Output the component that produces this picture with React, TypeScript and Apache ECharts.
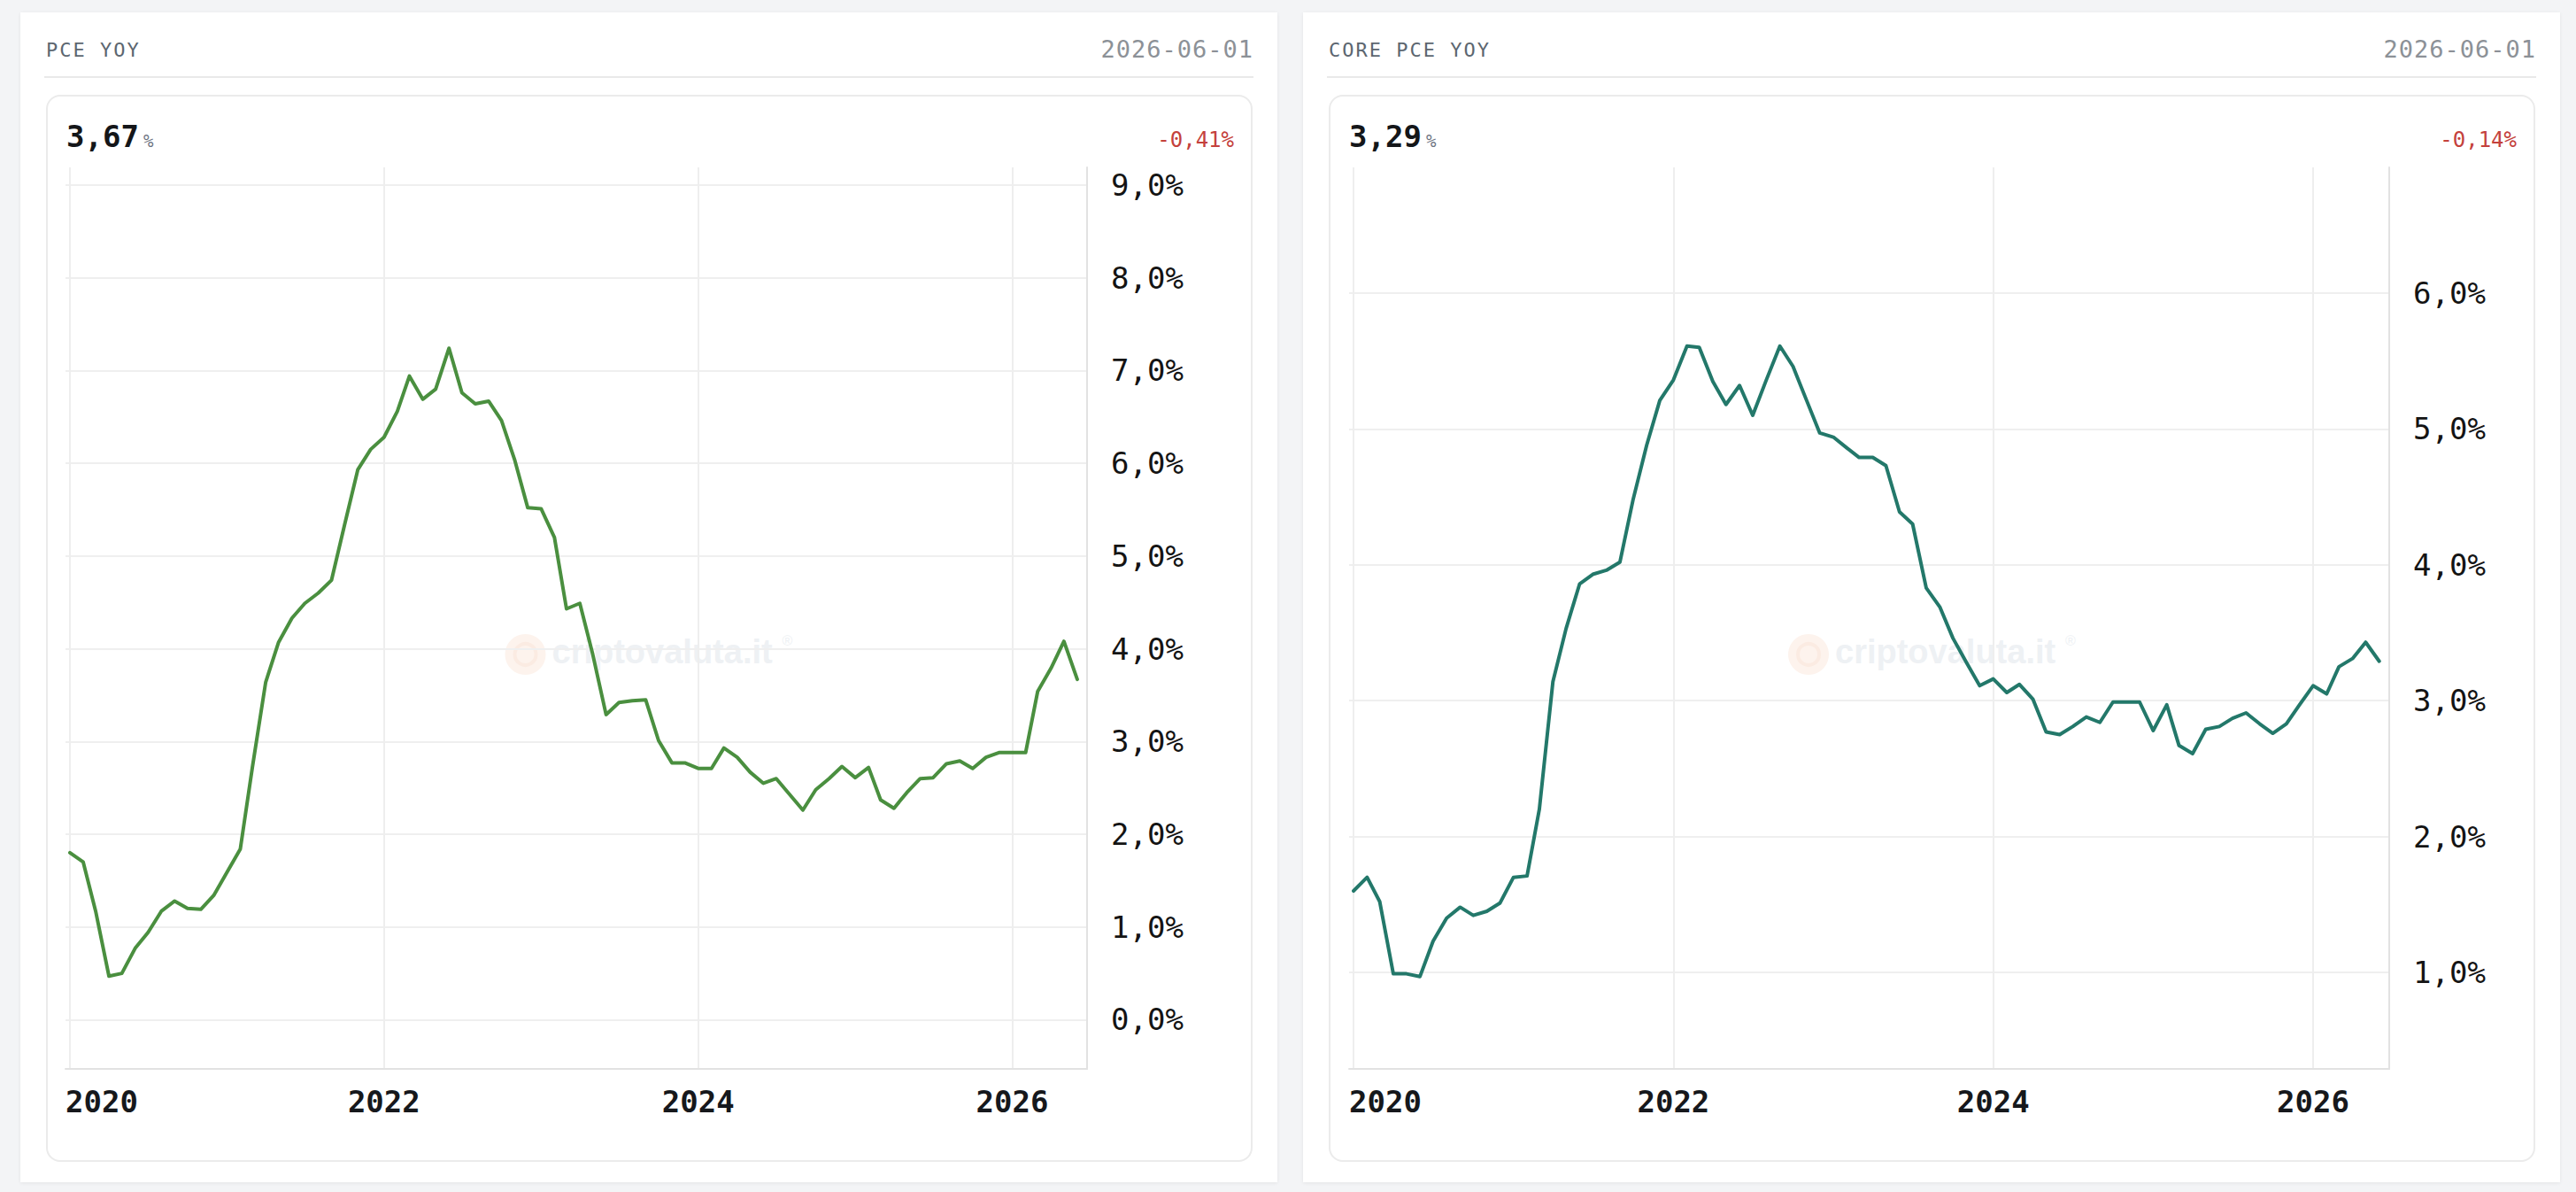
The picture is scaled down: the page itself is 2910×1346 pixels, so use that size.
import React, { useEffect, useRef } from "react";
import * as echarts from "echarts";

// ---------- data ----------
const START_YEAR = 2020; // first observation: January 2020, monthly
const titles = ["PCE YOY", "CORE PCE YOY"];
const lastDate = "2026-06-01";
const yearTicks = [2020, 2022, 2024, 2026];
const pceTicks = [0, 1, 2, 3, 4, 5, 6, 7, 8, 9];
const coreTicks = [1, 2, 3, 4, 5, 6];

const pceYoy = [
  1.8, 1.7, 1.17, 0.47, 0.5, 0.77, 0.94, 1.17, 1.28, 1.2, 1.19, 1.34,
  1.59, 1.84, 2.72, 3.64, 4.07, 4.33, 4.49, 4.6, 4.74, 5.33, 5.93, 6.15,
  6.28, 6.56, 6.94, 6.69, 6.8, 7.24, 6.76, 6.64, 6.67, 6.46, 6.03, 5.52,
  5.51, 5.2, 4.43, 4.49, 3.94, 3.29, 3.42, 3.44, 3.45, 3.01, 2.77, 2.77,
  2.71, 2.71, 2.93, 2.83, 2.67, 2.55, 2.6, 2.43, 2.26, 2.48, 2.6, 2.73,
  2.61, 2.72, 2.37, 2.28, 2.45, 2.6, 2.61, 2.76, 2.79, 2.71, 2.83, 2.88,
  2.88, 2.88, 3.54, 3.79, 4.08, 3.67,
];

const coreYoy = [
  1.6, 1.7, 1.52, 0.99, 0.99, 0.97, 1.23, 1.4, 1.48, 1.42, 1.45, 1.51,
  1.7, 1.71, 2.2, 3.14, 3.53, 3.86, 3.93, 3.96, 4.02, 4.48, 4.88, 5.21,
  5.36, 5.61, 5.6, 5.35, 5.18, 5.32, 5.1, 5.36, 5.61, 5.46, 5.21, 4.97,
  4.94, 4.86, 4.79, 4.79, 4.73, 4.39, 4.3, 3.83, 3.69, 3.46, 3.28, 3.11,
  3.16, 3.06, 3.12, 3.01, 2.77, 2.75, 2.81, 2.88, 2.84, 2.99, 2.99, 2.99,
  2.78, 2.97, 2.67, 2.61, 2.79, 2.81, 2.87, 2.91, 2.83, 2.76, 2.83, 2.97,
  3.11, 3.05, 3.25, 3.31, 3.43, 3.29,
];

// ---------- helpers ----------
const MONO = "'DejaVu Sans Mono', 'Liberation Mono', monospace";
const X_MIN = 2019.972;
const X_MAX = 2026.476;

function fracYear(i: number): number {
  const y = START_YEAR + Math.floor(i / 12);
  const m = i % 12;
  const a = Date.UTC(y, 0, 1);
  const b = Date.UTC(y + 1, 0, 1);
  return y + (Date.UTC(y, m, 1) - a) / (b - a);
}

const fmtComma = (v: number, d: number) => v.toFixed(d).replace(".", ",");

function xAxisFor(gridIndex: number) {
  return {
    type: "value",
    gridIndex,
    min: X_MIN,
    max: X_MAX,
    minInterval: 2,
    maxInterval: 2,
    axisLine: { show: true, onZero: false, lineStyle: { color: "#e2e2e2", width: 2 } },
    axisTick: { show: false },
    splitLine: {
      show: true,
      showMinLine: false,
      showMaxLine: false,
      lineStyle: { color: "#eeeeee", width: 2 },
    },
    axisLabel: {
      customValues: yearTicks.map((y, k) => (k === 0 ? X_MIN : y)),
      formatter: (v: number) => {
        const y = yearTicks.find((t) => Math.abs(t - v) < 0.5);
        return y == null ? "" : String(y);
      },
      alignMinLabel: "left",
      margin: 20,
      fontSize: 34,
      fontWeight: "bold",
      color: "#16181c",
      fontFamily: MONO,
    },
  };
}

function yAxisFor(gridIndex: number, min: number, max: number, ticks: number[]) {
  return {
    type: "value",
    gridIndex,
    position: "right",
    min,
    max,
    minInterval: 1,
    maxInterval: 1,
    axisLine: { show: true, onZero: false, lineStyle: { color: "#e2e2e2", width: 2 } },
    axisTick: { show: false },
    splitLine: {
      show: true,
      showMinLine: false,
      showMaxLine: false,
      lineStyle: { color: "#efefef", width: 2 },
    },
    axisLabel: {
      customValues: ticks,
      formatter: (v: number) => fmtComma(v, 1) + "%",
      margin: 27,
      fontSize: 34,
      color: "#141414",
      fontFamily: MONO,
    },
  };
}

function watermark(cx: number, cy: number) {
  return {
    type: "group",
    x: cx,
    y: cy,
    silent: true,
    z: -1,
    children: [
      { type: "circle", shape: { cx: -140, cy: 3, r: 23 }, style: { fill: "#fdf3ed" } },
      { type: "circle", shape: { cx: -140, cy: 3, r: 12 }, style: { fill: "none", stroke: "#fbebe2", lineWidth: 4 } },
      {
        type: "text",
        x: -110,
        y: 0,
        style: {
          text: "criptovaluta.it",
          font: "bold 38px 'Liberation Sans', Arial, sans-serif",
          fill: "#eef1f4",
          verticalAlign: "middle",
          align: "left",
        },
      },
      {
        type: "text",
        x: 150,
        y: -13,
        style: {
          text: "®",
          font: "16px 'Liberation Sans', Arial, sans-serif",
          fill: "#eef1f4",
          verticalAlign: "middle",
          align: "left",
        },
      },
    ],
  };
}

function buildOption() {
  return {
    animation: false,
    grid: [
      { left: 74, top: 189, width: 1154, height: 1018, outerBoundsMode: "none", containLabel: false },
      { left: 1524, top: 189, width: 1175, height: 1018, outerBoundsMode: "none", containLabel: false },
    ],
    xAxis: [xAxisFor(0), xAxisFor(1)],
    yAxis: [yAxisFor(0, -0.53, 9.19, pceTicks), yAxisFor(1, 0.29, 6.925, coreTicks)],
    graphic: [watermark(733.5, 736), watermark(2183, 736)],
    series: [
      {
        type: "line",
        xAxisIndex: 0,
        yAxisIndex: 0,
        data: pceYoy.map((v, i) => [fracYear(i), v]),
        showSymbol: false,
        symbol: "none",
        silent: true,
        z: 5,
        lineStyle: { color: "#4a8f3f", width: 4, join: "round", cap: "round" },
      },
      {
        type: "line",
        xAxisIndex: 1,
        yAxisIndex: 1,
        data: coreYoy.map((v, i) => [fracYear(i), v]),
        showSymbol: false,
        symbol: "none",
        silent: true,
        z: 5,
        lineStyle: { color: "#23786a", width: 4, join: "round", cap: "round" },
      },
    ],
  };
}

function Panel({ dx, title, values }: { dx: number; title: string; values: number[] }) {
  const last = values[values.length - 1];
  const prev = values[values.length - 2];
  const change = last - prev;
  return (
    <>
      <div
        style={{
          position: "absolute",
          left: 23 + dx,
          top: 14,
          width: 1420,
          height: 1321,
          background: "#ffffff",
          boxShadow: "0 1px 4px rgba(0,0,0,0.07)",
        }}
      />
      <div
        style={{
          position: "absolute",
          left: 52 + dx,
          top: 46,
          fontFamily: MONO,
          fontSize: 22,
          lineHeight: "22px",
          letterSpacing: 2,
          color: "#5c6670",
          whiteSpace: "nowrap",
        }}
      >
        {title}
      </div>
      <div
        style={{
          position: "absolute",
          left: 1416 + dx - 400,
          width: 400,
          top: 42,
          textAlign: "right",
          fontFamily: MONO,
          fontSize: 27,
          lineHeight: "27px",
          letterSpacing: 1,
          color: "#8c9197",
          whiteSpace: "nowrap",
        }}
      >
        {lastDate}
      </div>
      <div
        style={{
          position: "absolute",
          left: 50 + dx,
          top: 86,
          width: 1366,
          height: 2,
          background: "#e9e9e9",
        }}
      />
      <div
        style={{
          position: "absolute",
          left: 52 + dx,
          top: 107,
          width: 1363,
          height: 1205,
          boxSizing: "border-box",
          border: "2px solid #ebebeb",
          borderRadius: 16,
          background: "#ffffff",
        }}
      />
      <div
        style={{
          position: "absolute",
          left: 75 + dx,
          top: 137,
          fontFamily: MONO,
          fontSize: 34,
          lineHeight: "34px",
          fontWeight: "bold",
          color: "#141619",
          whiteSpace: "nowrap",
        }}
      >
        {fmtComma(last, 2)}
        <span style={{ fontSize: 19, fontWeight: "normal", color: "#6b7280", marginLeft: 5 }}>%</span>
      </div>
      <div
        style={{
          position: "absolute",
          left: 1394 + dx - 300,
          width: 300,
          top: 146,
          textAlign: "right",
          fontFamily: MONO,
          fontSize: 24,
          lineHeight: "24px",
          color: "#c4413c",
          whiteSpace: "nowrap",
        }}
      >
        {(change < 0 ? "-" : "+") + fmtComma(Math.abs(change), 2) + "%"}
      </div>
    </>
  );
}

export default function App() {
  const ref = useRef<HTMLDivElement>(null);
  useEffect(() => {
    if (!ref.current) return;
    const chart = echarts.init(ref.current, null, { renderer: "svg" });
    chart.setOption(buildOption() as any);
    return () => chart.dispose();
  }, []);
  return (
    <div
      style={{
        position: "absolute",
        left: 0,
        top: 0,
        width: 2910,
        height: 1346,
        background: "#f3f4f6",
        overflow: "hidden",
      }}
    >
      <Panel dx={0} title={titles[0]} values={pceYoy} />
      <Panel dx={1449} title={titles[1]} values={coreYoy} />
      <div ref={ref} style={{ position: "absolute", left: 0, top: 0, width: 2910, height: 1346 }} />
    </div>
  );
}
